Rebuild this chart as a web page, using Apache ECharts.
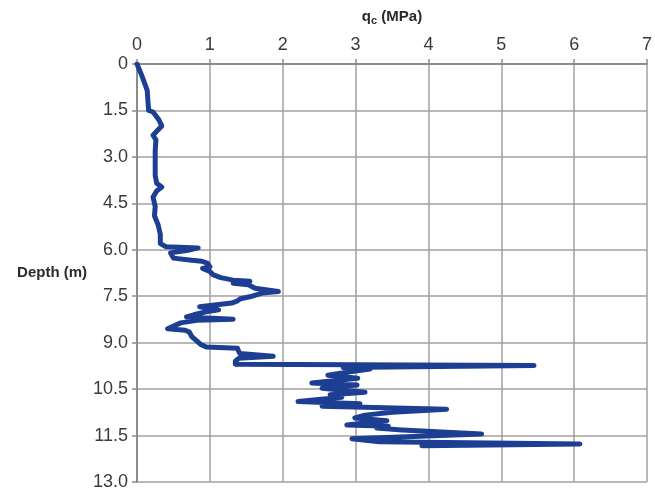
<!DOCTYPE html>
<html>
<head>
<meta charset="utf-8">
<script src="https://cdn.jsdelivr.net/npm/echarts@6/dist/echarts.min.js"></script>
<style>html,body{margin:0;padding:0;background:#fff}#c{width:655px;height:497px}</style>
</head>
<body>
<div id="c"></div>
<script>
// Depth (m) along the profile
var depth = [0, 0.4, 0.85, 1.2, 1.5, 1.55, 1.8, 2.0, 2.15, 2.3, 2.45, 2.8, 3.2, 3.6, 3.85, 3.97, 4.1, 4.3, 4.6, 4.9, 5.2, 5.5, 5.8, 5.9, 5.94, 6.02, 6.1, 6.27, 6.34, 6.37, 6.44, 6.55, 6.6, 6.7, 6.8, 6.9, 6.98, 7.02, 7.08, 7.13, 7.24, 7.35, 7.4, 7.5, 7.58, 7.65, 7.72, 7.84, 7.94, 8.0, 8.1, 8.17, 8.24, 8.28, 8.36, 8.55, 8.6, 8.66, 8.8, 8.9, 9.05, 9.14, 9.18, 9.25, 9.35, 9.44, 9.5, 9.6, 9.7, 9.74, 9.8, 9.85, 9.95, 10.05, 10.15, 10.3, 10.37, 10.47, 10.6, 10.68, 10.76, 10.9, 10.97, 11.05, 11.15, 11.25, 11.34, 11.43, 11.52, 11.6, 11.66, 11.7, 11.76, 11.82, 11.95, 12.1, 12.2, 12.27, 12.33];
// Cone resistance qc (MPa)
var qc = [0.0, 0.07, 0.14, 0.15, 0.16, 0.22, 0.3, 0.34, 0.28, 0.22, 0.26, 0.25, 0.25, 0.25, 0.27, 0.34, 0.27, 0.22, 0.25, 0.24, 0.29, 0.32, 0.32, 0.4, 0.84, 0.7, 0.46, 0.5, 0.75, 0.89, 0.97, 1.0, 0.9, 1.0, 1.04, 1.15, 1.32, 1.55, 1.32, 1.53, 1.62, 1.94, 1.72, 1.58, 1.42, 1.38, 1.3, 0.86, 1.12, 0.95, 0.78, 0.68, 1.32, 0.82, 0.6, 0.42, 0.66, 0.72, 0.75, 0.8, 0.87, 0.95, 1.38, 1.39, 1.41, 1.87, 1.4, 1.35, 1.35, 5.45, 2.83, 3.2, 2.9, 2.62, 3.03, 2.4, 3.02, 2.54, 3.13, 2.65, 2.81, 2.21, 3.06, 2.54, 4.25, 3.5, 3.13, 2.99, 3.43, 3.1, 2.88, 3.45, 3.29, 3.64, 4.73, 2.95, 3.33, 6.08, 3.91];
var xTickLabels = ["0", "1", "2", "3", "4", "5", "6", "7"];
var yTickLabels = ["0", "1.5", "3.0", "4.5", "6.0", "7.5", "9.0", "10.5", "11.5", "13.0"];

var chart = echarts.init(document.getElementById('c'));
var labelFont = {fontFamily: 'Liberation Sans', fontSize: 18, color: '#3a3a3a'};
var titleFamily = "'Liberation Sans', Arial, sans-serif";
var titleFont = {fontFamily: titleFamily, fontWeight: 'bold', fontSize: 15, color: '#2a2a2a'};
chart.setOption({
  animation: false,
  grid: {left: 137, right: 8, top: 64, bottom: 15, containLabel: false, outerBoundsMode: 'none'},
  xAxis: {
    type: 'value', position: 'top', min: 0, max: 7, interval: 1,
    name: '{q|q}{c|c}{q| (MPa)}', nameLocation: 'middle', nameGap: 38,
    nameTextStyle: {rich: {q: titleFont, c: {fontFamily: titleFamily, fontWeight: 'bold', fontSize: 11, color: '#2a2a2a', padding: [7, 0, 0, 0]}}},
    axisLine: {show: true, lineStyle: {color: '#8c8c8c', width: 2}},
    axisTick: {show: true, inside: false, length: 5, lineStyle: {color: '#8c8c8c', width: 1.5}},
    axisLabel: Object.assign({margin: 10, formatter: function (v) { return xTickLabels[Math.round(v)]; }}, labelFont),
    splitLine: {show: true, lineStyle: {color: '#a0a0a0', width: 1.5}}
  },
  yAxis: {
    type: 'value', inverse: true, min: 0, max: 13.5, interval: 1.5,
    name: 'Depth (m)', nameLocation: 'middle', nameRotate: 0, nameGap: 48,
    nameTextStyle: titleFont,
    axisLine: {show: true, lineStyle: {color: '#8c8c8c', width: 2}},
    axisTick: {show: true, inside: false, length: 5, lineStyle: {color: '#8c8c8c', width: 1.5}},
    axisLabel: Object.assign({margin: 9, formatter: function (v) { return yTickLabels[Math.round(v / 1.5)]; }}, labelFont),
    splitLine: {show: true, lineStyle: {color: '#a0a0a0', width: 1.5}}
  },
  series: [{
    type: 'line', showSymbol: false, symbol: 'none',
    data: depth.map(function (d, i) { return [qc[i], d]; }),
    lineStyle: {color: '#1d3f93', width: 5, join: 'round', cap: 'round'}
  }]
});
</script>
</body>
</html>
